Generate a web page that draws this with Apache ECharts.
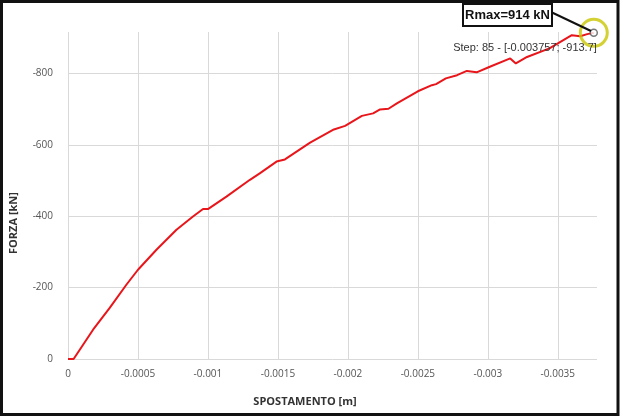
<!DOCTYPE html>
<html>
<head>
<meta charset="utf-8">
<script src="https://cdn.jsdelivr.net/npm/echarts@6/dist/echarts.min.js"></script>
<style>
  html, body { margin: 0; padding: 0; background: #fff; }
  #chart { width: 620px; height: 417px; }
</style>
</head>
<body>
<div id="chart"></div>
<script>
// spostamento [m] e forza [kN]
var spostamento = [0, -0.00004, -0.000179, -0.000298, -0.000417, -0.0005, -0.000632, -0.000775,
  -0.000893, -0.000965, -0.001, -0.001132, -0.0013, -0.00137, -0.00149, -0.00155, -0.00173,
  -0.0019, -0.00198, -0.0021, -0.00218, -0.00223, -0.00229, -0.00235, -0.0025, -0.0026,
  -0.00263, -0.0027, -0.00278, -0.00285, -0.00292, -0.00301, -0.00316, -0.0032, -0.00328,
  -0.00344, -0.0036, -0.00366, -0.00371, -0.003757];
var forza = [0, 0, -82, -143, -208, -250, -306, -362, -399, -420, -420, -455, -502, -520, -553,
  -559, -606, -643, -653, -681, -688, -699, -701, -716, -750, -767, -770, -786, -795, -807,
  -803, -818, -842, -828, -846, -870, -907, -904, -910, -913.7];

var xMin = -0.00378;
var yMin = -916;
var picco = [-0.003757, -913.7];
var etichettaPicco = 'Rmax=914 kN';
var etichettaStep = 'Step: 85 - [-0.003757; -913.7]';

var punti = [];
for (var i = 0; i < spostamento.length; i++) {
  punti.push([spostamento[i], forza[i]]);
}

var chart = echarts.init(document.getElementById('chart'), null, { renderer: 'canvas' });

var option = {
  backgroundColor: '#ffffff',
  animation: false,
  grid: { left: 68, right: 23, top: 32, bottom: 58 },
  xAxis: {
    type: 'value',
    inverse: true,
    min: xMin,
    max: 0,
    splitNumber: 8,
    axisLine: { show: false },
    axisTick: { show: false },
    axisLabel: {
      showMinLabel: false,
      margin: 10,
      color: '#555',
      fontFamily: 'Open Sans',
      fontSize: 10
    },
    splitLine: { show: true, showMinLine: false, lineStyle: { color: '#d9d9d9', width: 1 } }
  },
  yAxis: {
    type: 'value',
    inverse: true,
    min: yMin,
    max: 0,
    axisLine: { show: false },
    axisTick: { show: false },
    axisLabel: {
      showMinLabel: false,
      margin: 15,
      color: '#555',
      fontFamily: 'Open Sans',
      fontSize: 10
    },
    splitLine: { show: true, showMinLine: false, lineStyle: { color: '#d9d9d9', width: 1 } }
  },
  series: [
    {
      type: 'line',
      data: punti,
      showSymbol: false,
      lineStyle: { color: '#e8161b', width: 2 },
      z: 3
    },
    {
      type: 'scatter',
      data: [picco],
      symbol: 'circle',
      symbolSize: 7,
      itemStyle: { color: '#ffffff', borderColor: '#555', borderWidth: 1.5 },
      z: 5
    },
    {
      type: 'scatter',
      data: [picco],
      symbol: 'circle',
      symbolSize: 27,
      itemStyle: { color: 'rgba(0,0,0,0)', borderColor: '#c8c600', borderWidth: 3 },
      z: 6
    }
  ],
  graphic: [
    {
      type: 'rect',
      shape: { x: 1.5, y: 1.5, width: 616.5, height: 413 },
      style: { fill: 'none', stroke: '#111', lineWidth: 3 },
      silent: true
    },
    {
      type: 'text',
      x: 14, y: 223,
      rotation: Math.PI / 2,
      style: {
        text: 'FORZA [kN]',
        fill: '#333',
        font: 'bold 11px "Open Sans"',
        textAlign: 'center',
        textVerticalAlign: 'middle'
      }
    },
    {
      type: 'text',
      x: 305, y: 402,
      style: {
        text: 'SPOSTAMENTO [m]',
        fill: '#333',
        font: 'bold 11px "Open Sans"',
        textAlign: 'center',
        textVerticalAlign: 'middle'
      }
    },
    {
      type: 'line',
      shape: { x1: 551, y1: 12, x2: 591, y2: 31 },
      style: { stroke: '#111', lineWidth: 2 },
      z: 10
    },
    {
      type: 'rect',
      shape: { x: 463, y: 4, width: 89, height: 22 },
      style: { fill: '#fff', stroke: '#111', lineWidth: 2 },
      z: 11
    },
    {
      type: 'text',
      x: 507.5, y: 15,
      z: 12,
      style: {
        text: etichettaPicco,
        fill: '#111',
        font: 'bold 13px "Liberation Sans"',
        textAlign: 'center',
        textVerticalAlign: 'middle'
      }
    },
    {
      type: 'text',
      x: 525, y: 48,
      z: 12,
      style: {
        text: etichettaStep,
        fill: '#333',
        font: '11px "Liberation Sans"',
        textAlign: 'center',
        textVerticalAlign: 'middle'
      }
    }
  ]
};

chart.setOption(option);
</script>
</body>
</html>
